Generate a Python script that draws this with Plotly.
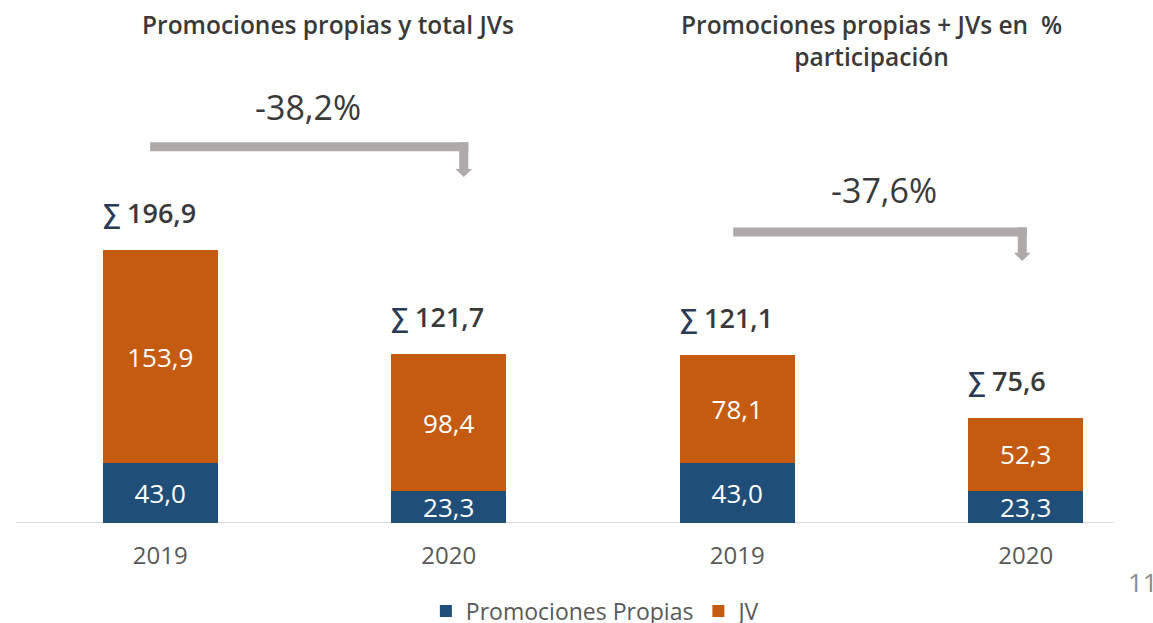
import plotly.graph_objects as go

# data
years = ["2019", "2020", "2019", "2020"]
propias = [43.0, 23.3, 43.0, 23.3]
jv = [153.9, 98.4, 78.1, 52.3]
totales = [196.9, 121.7, 121.1, 75.6]
titulos = ["Promociones propias y total JVs", "Promociones propias + JVs en  %<br>participación"]
variaciones = ["-38,2%", "-37,6%"]

BLUE = "#1f4e79"
ORANGE = "#c55a11"
ARROW = "#aeaaaa"
TXT = "#3a3a3a"
FONT = "Open Sans"

xs = list(range(len(years)))

fig = go.Figure()
fig.add_trace(go.Bar(
    x=xs, y=propias, name="Promociones Propias",
    marker=dict(color=BLUE, line=dict(width=0)),
    texttemplate="%{y:.1f}", textposition="inside", insidetextanchor="middle",
    constraintext="none",
    textfont=dict(color="white", size=26, family=FONT),
))
fig.add_trace(go.Bar(
    x=xs, y=jv, name="JV",
    marker=dict(color=ORANGE, line=dict(width=0)),
    texttemplate="%{y:.1f}", textposition="inside", insidetextanchor="middle",
    constraintext="none",
    textfont=dict(color="white", size=26, family=FONT),
))

# totals above each bar
for i, t in enumerate(totales):
    fig.add_annotation(
        x=i - 0.2, y=t, xref="x", yref="y", xanchor="left", yanchor="middle",
        yshift=38, xshift=-2, showarrow=False,
        text="<span style='color:#2b3a55'>∑</span> " + f"{t:.1f}".replace(".", ","),
        font=dict(size=27, color=TXT, family=FONT, weight=600),
    )

# section titles
for xc, txt in zip([0.58, 2.465], titulos):
    fig.add_annotation(
        x=xc, y=1.0, xref="x", yref="paper", xanchor="center", yanchor="top",
        yshift=-6, showarrow=False, text=txt, align="center",
        font=dict(size=24.5, color=TXT, family=FONT, weight=600),
    )

# change arrows: (x start, x end, y level, y tip, label x, label y)
arrows = [(-0.035, 1.052, 271.5, 249.8, 0.513, 300.5),
          (1.986, 2.988, 210.1, 189.2, 2.51, 240.5)]
for (xa, xb, ylev, ytip, lx, ly), lab in zip(arrows, variaciones):
    fig.add_shape(type="line", x0=xa, x1=xb + 0.016, y0=ylev, y1=ylev,
                  xref="x", yref="y", line=dict(color=ARROW, width=9))
    fig.add_shape(type="line", x0=xb, x1=xb, y0=ylev + 3.2, y1=ytip + 5.5,
                  xref="x", yref="y", line=dict(color=ARROW, width=9))
    fig.add_shape(type="path", xref="x", yref="y", line=dict(width=0), fillcolor=ARROW,
                  path=f"M{xb - 0.029},{ytip + 5.8} L{xb + 0.029},{ytip + 5.8} L{xb},{ytip} Z")
    fig.add_annotation(x=lx, y=ly, xref="x", yref="y", showarrow=False, text=lab,
                       font=dict(size=34, color=TXT, family=FONT, weight=500))

# page number
fig.add_annotation(x=(1126 - 16) / 1137, y=(523 - 582) / 523, xref="paper", yref="paper",
                   xanchor="left", yanchor="middle", showarrow=False, text="11",
                   font=dict(size=26, color="#8c8c8c", family=FONT))

fig.update_layout(
    barmode="stack", bargap=0.6, separators=",.",
    width=1153, height=623,
    margin=dict(l=16, r=0, t=0, b=100, autoexpand=False),
    plot_bgcolor="white", paper_bgcolor="white",
    font=dict(family=FONT, color="#595959"),
    showlegend=True,
    legend=dict(orientation="h", x=0.51, xanchor="center",
                y=-(611 - 523) / 523, yanchor="middle",
                font=dict(size=23, color="#595959", family=FONT), traceorder="normal"),
    xaxis=dict(range=[-0.5, -0.5 + 1137 / 288.5], tickvals=xs, ticktext=years,
               showgrid=False, zeroline=False, showline=False,
               ticks="outside", ticklen=11, tickcolor="rgba(0,0,0,0)",
               tickfont=dict(size=24, color="#595959", family=FONT)),
    yaxis=dict(range=[0, 377.5], visible=False, showgrid=False, zeroline=False),
)
# baseline
fig.add_shape(type="line", xref="x domain", yref="y", x0=0, x1=0.965, y0=0, y1=0,
              line=dict(color="#d9d9d9", width=2), layer="below")

fig.write_html("out.html", config={"displayModeBar": False},
               post_script="document.body.style.margin='0';")
